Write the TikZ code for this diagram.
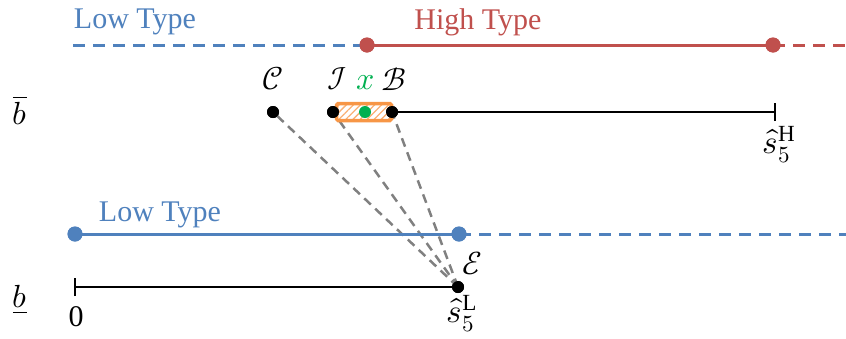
\documentclass[tikz,border=0pt]{standalone}
\usepackage{fontspec}
\usepackage{unicode-math}
\setmainfont{Liberation Serif}
\setmathfont{Latin Modern Math}
\usetikzlibrary{patterns.meta}
\definecolor{lowblue}{RGB}{79,129,189}
\definecolor{highred}{RGB}{192,80,77}
\definecolor{xgreen}{RGB}{0,176,80}
\definecolor{boxorange}{RGB}{247,150,70}
\tikzset{
  dot/.style={circle,fill=black,inner sep=0pt,minimum size=12pt},
  bdot/.style={circle,fill=lowblue,inner sep=0pt,minimum size=15pt},
  rdot/.style={circle,fill=highred,inner sep=0pt,minimum size=15pt},
  gdot/.style={circle,fill=xgreen,inner sep=0pt,minimum size=12pt},
  pt/.style={inner sep=0pt,minimum size=0pt},
  txt/.style={font=\fontsize{30}{34}\selectfont,inner sep=0pt},
  mlab/.style={font=\fontsize{32}{36}\selectfont,inner sep=0pt},
  slab/.style={font=\fontsize{33}{37}\selectfont,inner sep=0pt},
  blab/.style={font=\fontsize{32}{36}\selectfont,inner sep=0pt},
  bluedash/.style={draw=lowblue,line width=3pt,dash pattern=on 12pt off 8pt},
  reddash/.style={draw=highred,line width=3pt,dash pattern=on 12pt off 8pt},
  graydash/.style={draw=black!50,line width=2.5pt,dash pattern=on 9pt off 6pt},
  blk/.style={draw=black,line width=2.2pt},
}
\begin{document}
\begin{tikzpicture}[x=1pt,y=-1pt]
\useasboundingbox (0,0) rectangle (846,338);
% ---- top type line
\node[pt] (t0) at (73,45) {};
\node[rdot] (tr1) at (367,45) {};
\node[rdot] (tr2) at (773,45) {};
\node[pt] (tend) at (846,45) {};
\draw[bluedash] (t0) -- (tr1.center);
\draw[highred,line width=3pt] (tr1.center) -- (tr2.center);
\draw[reddash] (tr2.center) -- (tend);
\node[rdot] at (tr1) {};
\node[rdot] at (tr2) {};
\node[txt,text=lowblue] (lt1) at (135,22) {Low Type};
\node[txt,text=highred] (ht) at (478,22) {High Type};
% ---- upper line b-bar
\node[blab] (bbar) at (20,110) {$\overline{b}$};
\node[dot] (C) at (273,112) {};
\node[dot] (I) at (333,112) {};
\node[dot] (B) at (392,112) {};
\node[pt] (HE) at (775,112) {};
\node[dot] (E) at (458,287) {};
\draw[graydash] (E.center) -- (C.center);
\draw[graydash] (E.center) -- (I.center);
\draw[graydash] (E.center) -- (B.center);
\node[draw=boxorange,line width=3.5pt,rounded corners=1.5pt,
      pattern={Lines[angle=45,distance=5pt,line width=1.3pt]},pattern color=boxorange!75,
      minimum width=55pt,minimum height=17pt,inner sep=0pt] (box) at (364,112) {};
\node[gdot] (X) at (365,112) {};
\draw[blk] (B.center) -- (HE.center);
\draw[blk] ([yshift=-9pt]HE.center) -- ([yshift=9pt]HE.center);
\node[dot] at (C) {};
\node[dot] at (I) {};
\node[dot] at (B) {};
\node[mlab] (Clab) at (273,79) {$\mathcal{C}$};
\node[mlab] (Ilab) at (337,79) {$\mathcal{I}$};
\node[mlab,text=xgreen] (Xlab) at (366,83) {$\symscr{x}$};
\node[mlab] (Blab) at (394,79) {$\mathcal{B}$};
\node[slab] (sH) at (779,145) {$\hat{\symscr{s}}_{5}^{\mathrm{H}}$};
% ---- middle blue line
\node[bdot] (m0) at (75,234) {};
\node[bdot] (m1) at (459,234) {};
\node[pt] (mend) at (846,234) {};
\draw[lowblue,line width=3pt] (m0.center) -- (m1.center);
\draw[bluedash] (m1.center) -- (mend);
\node[bdot] at (m0) {};
\node[bdot] at (m1) {};
\node[txt,text=lowblue] (lt2) at (160,215) {Low Type};
% ---- lower line b-underline
\node[blab] (bund) at (20,300) {$\underline{b}$};
\node[pt] (L0) at (75,287) {};
\draw[blk] (L0.center) -- (E.center);
\draw[blk] ([yshift=-9pt]L0.center) -- ([yshift=9pt]L0.center);
\node[dot] at (E) {};
\node[txt] (zero) at (76,317) {0};
\node[mlab] (Elab) at (472,263) {$\mathcal{E}$};
\node[slab] (sL) at (462,314) {$\hat{\symscr{s}}_{5}^{\mathrm{L}}$};
\end{tikzpicture}
\end{document}
